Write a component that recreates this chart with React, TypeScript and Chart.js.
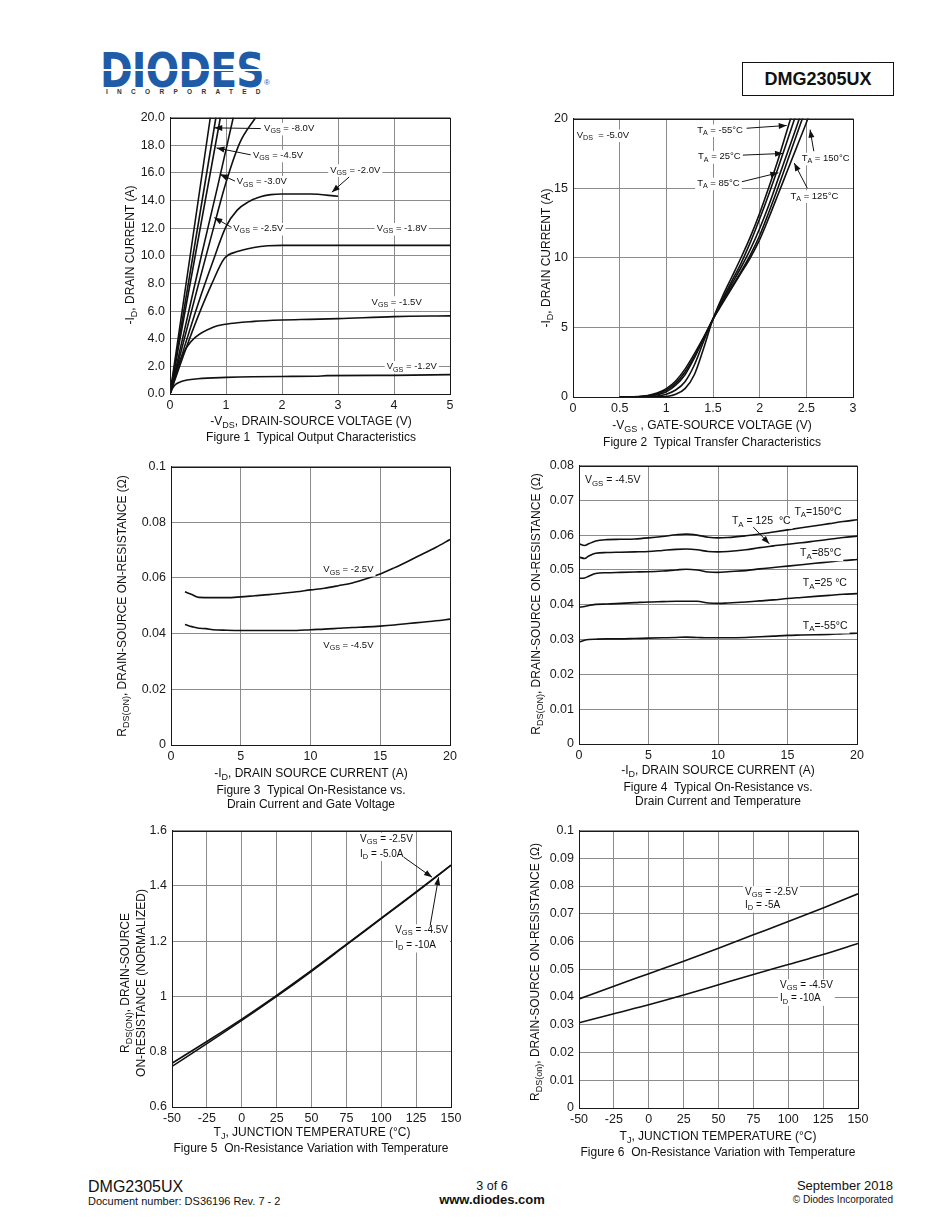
import React, { useEffect, useRef } from "react";
import { Chart, registerables } from "chart.js";
Chart.register(...registerables);

const FONT = '"Liberation Sans", Arial, Helvetica, sans-serif';

// ---------------- Figure 1: Typical Output Characteristics ----------------
const fig1XTicks = [0, 1, 2, 3, 4, 5];
const fig1YTicks = [0, 2, 4, 6, 8, 10, 12, 14, 16, 18, 20];
const fig1VgsTopX = [0, 0.36, 0.72];
const fig1VgsTopY = [0, 10, 20];
const fig1Vgs80X = [0, 0.41, 0.82];
const fig1Vgs80Y = [0, 10, 20];
const fig1Vgs45X = [0, 0.45, 0.9];
const fig1Vgs45Y = [0, 10, 20];
const fig1Vgs30X = [0, 0.28, 0.56, 0.85, 1.13];
const fig1Vgs30Y = [0, 5, 10, 15, 20];
const fig1Vgs25X = [0, 0.25, 0.5, 0.75, 1.0, 1.25, 1.53];
const fig1Vgs25Y = [0, 3.9, 7.8, 11.6, 15.3, 18.2, 20];
const fig1Vgs20X = [0, 0.25, 0.5, 0.75, 1.0, 1.2, 1.4, 1.6, 1.8, 2.0, 2.5, 3.0];
const fig1Vgs20Y = [0, 3.3, 6.5, 9.4, 12.1, 13.3, 13.9, 14.25, 14.42, 14.47, 14.47, 14.3];
const fig1Vgs18X = [0, 0.25, 0.5, 0.75, 0.97, 1.2, 1.5, 1.75, 2, 3, 4, 5];
const fig1Vgs18Y = [0, 2.9, 5.6, 8.0, 9.8, 10.3, 10.6, 10.72, 10.75, 10.75, 10.75, 10.75];
const fig1Vgs15X = [0, 0.1, 0.2, 0.3, 0.45, 0.75, 1, 1.5, 2, 2.5, 3, 4, 5];
const fig1Vgs15Y = [0, 1.5, 2.6, 3.4, 4.1, 4.8, 5.05, 5.25, 5.35, 5.4, 5.45, 5.6, 5.65];
const fig1Vgs12X = [0, 0.05, 0.1, 0.2, 0.5, 1, 2, 2.6, 2.8, 4, 5];
const fig1Vgs12Y = [0, 0.45, 0.7, 0.9, 1.1, 1.2, 1.27, 1.28, 1.33, 1.35, 1.4];
const fig1Notes = [
  { x: 1.68, y: 19.2, text: ["V_{GS} = -8.0V"], from: [1.62, 19.2], to: [0.79, 19.25] },
  { x: 1.48, y: 17.26, text: ["V_{GS} = -4.5V"], from: [1.44, 17.3], to: [0.83, 17.8] },
  { x: 1.19, y: 15.35, text: ["V_{GS} = -3.0V"], from: [1.16, 15.4], to: [0.89, 15.9] },
  { x: 1.13, y: 11.96, text: ["V_{GS} = -2.5V"], from: [1.1, 12.05], to: [0.79, 12.76] },
  { x: 2.86, y: 16.2, text: ["V_{GS} = -2.0V"], from: [3.2, 15.7], to: [2.89, 14.6] },
  { x: 3.69, y: 11.96, text: ["V_{GS} = -1.8V"] },
  { x: 3.6, y: 6.66, text: ["V_{GS} = -1.5V"] },
  { x: 3.87, y: 1.97, text: ["V_{GS} = -1.2V"] },
];

// ---------------- Figure 2: Typical Transfer Characteristics ----------------
const fig2XTicks = [0, 0.5, 1, 1.5, 2, 2.5, 3];
const fig2YTicks = [0, 5, 10, 15, 20];
const fig2Tm55X = [0.5, 0.9, 1.0, 1.1, 1.2, 1.3, 1.4, 1.5, 1.6, 1.7, 1.8, 1.9, 2.0, 2.1, 2.2, 2.3, 2.35];
const fig2Tm55Y = [0, 0.01, 0.04, 0.2, 0.6, 1.6, 3.5, 5.6, 7.2, 8.6, 10.0, 11.5, 13.2, 15.1, 17.1, 19.3, 20.4];
const fig2T25X = [0.5, 0.8, 0.9, 1.0, 1.1, 1.2, 1.3, 1.4, 1.5, 1.6, 1.7, 1.8, 1.9, 2.0, 2.1, 2.2, 2.3, 2.4];
const fig2T25Y = [0, 0.01, 0.06, 0.2, 0.5, 1.1, 2.3, 4.0, 5.6, 7.0, 8.3, 9.6, 11.1, 12.8, 14.6, 16.5, 18.5, 20.5];
const fig2T85X = [0.5, 0.7, 0.8, 0.9, 1.0, 1.1, 1.2, 1.3, 1.4, 1.5, 1.6, 1.7, 1.8, 1.9, 2.0, 2.1, 2.2, 2.3, 2.4, 2.45];
const fig2T85Y = [0, 0.01, 0.05, 0.16, 0.38, 0.85, 1.6, 2.8, 4.2, 5.6, 6.9, 8.1, 9.3, 10.6, 12.1, 13.8, 15.7, 17.6, 19.5, 20.5];
const fig2T125X = [0.5, 0.7, 0.8, 0.9, 1.0, 1.1, 1.2, 1.3, 1.4, 1.5, 1.6, 1.7, 1.8, 1.9, 2.0, 2.1, 2.2, 2.3, 2.4, 2.5];
const fig2T125Y = [0, 0.02, 0.08, 0.22, 0.5, 1.0, 1.8, 2.9, 4.2, 5.6, 6.8, 7.9, 9.0, 10.2, 11.6, 13.3, 15.1, 17.0, 18.9, 20.8];
const fig2T150X = [0.5, 0.7, 0.8, 0.9, 1.0, 1.1, 1.2, 1.3, 1.4, 1.5, 1.6, 1.7, 1.8, 1.9, 2.0, 2.1, 2.2, 2.3, 2.4, 2.5, 2.55];
const fig2T150Y = [0, 0.03, 0.1, 0.28, 0.6, 1.15, 2.0, 3.1, 4.3, 5.6, 6.7, 7.8, 8.9, 10.0, 11.3, 12.9, 14.6, 16.3, 18.0, 19.7, 20.6];
const fig2Notes = [
  { x: 0.04, y: 18.8, text: ["V_{DS}  = -5.0V"] },
  { x: 1.33, y: 19.16, text: ["T_{A} = -55°C"], from: [1.86, 19.3], to: [2.29, 19.5] },
  { x: 1.34, y: 17.25, text: ["T_{A} = 25°C"], from: [1.82, 17.37], to: [2.25, 17.49] },
  { x: 1.33, y: 15.34, text: ["T_{A} = 85°C"], from: [1.81, 15.46], to: [2.2, 16.1] },
  { x: 2.45, y: 17.13, text: ["T_{A} = 150°C"], from: [2.58, 17.65], to: [2.54, 19.2] },
  { x: 2.33, y: 14.43, text: ["T_{A} = 125°C"], from: [2.51, 15.0], to: [2.37, 16.8] },
];

// ---------------- Figure 3: On-Resistance vs Drain Current and Gate Voltage ----------------
const fig3XTicks = [0, 5, 10, 15, 20];
const fig3YTicks = [0, 0.02, 0.04, 0.06, 0.08, 0.1];
const fig3Vgs25X = [1, 1.5, 2, 3, 4, 5, 6, 7, 8, 9, 10, 11, 12, 13, 14, 15, 16, 17, 18, 19, 20];
const fig3Vgs25Y = [0.055, 0.054, 0.053, 0.0529, 0.0529, 0.0532, 0.0536, 0.054, 0.0545, 0.055, 0.0557, 0.0563, 0.0572, 0.0582, 0.0597, 0.0614, 0.0636, 0.066, 0.0685, 0.071, 0.0738];
const fig3Vgs45X = [1, 1.5, 2, 2.5, 3, 4, 5, 6, 7, 8, 9, 10, 11, 12, 13, 14, 15, 16, 17, 18, 19, 20];
const fig3Vgs45Y = [0.0433, 0.0425, 0.0419, 0.0418, 0.0414, 0.0412, 0.0411, 0.0411, 0.0411, 0.0411, 0.0411, 0.0414, 0.0416, 0.0419, 0.0422, 0.0424, 0.0427, 0.0431, 0.0436, 0.0441, 0.0446, 0.0452];
const fig3Notes = [
  { x: 10.92, y: 0.0629, text: ["V_{GS} = -2.5V"] },
  { x: 10.92, y: 0.0359, text: ["V_{GS} = -4.5V"] },
];

// ---------------- Figure 4: On-Resistance vs Drain Current and Temperature ----------------
const fig4XTicks = [0, 5, 10, 15, 20];
const fig4YTicks = [0, 0.01, 0.02, 0.03, 0.04, 0.05, 0.06, 0.07, 0.08];
const fig4X = [0, 0.4, 0.7, 1.2, 2, 3, 4, 5, 6, 7, 7.7, 8.5, 9.3, 10, 10.7, 12, 13, 14, 15, 16, 17, 18, 19, 20];
const fig4T150 = [0.0575, 0.057, 0.0575, 0.0583, 0.0587, 0.0588, 0.0589, 0.0592, 0.0596, 0.0601, 0.0603, 0.06, 0.0594, 0.0592, 0.0593, 0.0598, 0.0603, 0.0609, 0.0615, 0.0621, 0.0627, 0.0633, 0.0639, 0.0644];
const fig4T125 = [0.0537, 0.0533, 0.054, 0.0548, 0.055, 0.0551, 0.0552, 0.0553, 0.0556, 0.0559, 0.056, 0.0558, 0.0553, 0.0552, 0.0553, 0.0558, 0.0564, 0.0569, 0.0574, 0.0578, 0.0583, 0.0588, 0.0593, 0.0597];
const fig4T85 = [0.0476, 0.0477, 0.0482, 0.049, 0.0492, 0.0493, 0.0494, 0.0495, 0.0497, 0.05, 0.0502, 0.05, 0.0494, 0.0493, 0.0495, 0.0498, 0.0503, 0.0507, 0.0511, 0.0515, 0.0519, 0.0523, 0.0527, 0.053];
const fig4T25 = [0.0393, 0.0395, 0.0398, 0.0401, 0.0402, 0.0404, 0.0406, 0.0408, 0.0409, 0.041, 0.041, 0.041, 0.0405, 0.0404, 0.0405, 0.0408, 0.0411, 0.0414, 0.0418, 0.0421, 0.0424, 0.0427, 0.043, 0.0432];
const fig4Tm55 = [0.0293, 0.0298, 0.03, 0.0301, 0.0302, 0.0302, 0.0303, 0.0304, 0.0305, 0.0306, 0.0307, 0.0306, 0.0305, 0.0305, 0.0305, 0.0306, 0.0308, 0.031, 0.0312, 0.0313, 0.0314, 0.0315, 0.0317, 0.0318];
const fig4Notes = [
  { x: 0.43, y: 0.0757, text: ["V_{GS} = -4.5V"] },
  { x: 15.5, y: 0.0666, text: ["T_{A}=150°C"] },
  { x: 11.0, y: 0.064, text: ["T_{A} = 125  °C"], from: [12.54, 0.0623], to: [13.69, 0.0575] },
  { x: 15.9, y: 0.0547, text: ["T_{A}=85°C"] },
  { x: 16.1, y: 0.0461, text: ["T_{A}=25 °C"] },
  { x: 16.1, y: 0.0339, text: ["T_{A}=-55°C"] },
];

// ---------------- Figure 5: Normalized On-Resistance vs Temperature ----------------
const fig5XTicks = [-50, -25, 0, 25, 50, 75, 100, 125, 150];
const fig5YTicks = [0.6, 0.8, 1, 1.2, 1.4, 1.6];
const fig5TempX = [-50, -25, 0, 25, 50, 75, 100, 125, 150];
const fig5Vgs25 = [0.758, 0.837, 0.918, 1.004, 1.094, 1.188, 1.283, 1.378, 1.475];
const fig5Vgs45 = [0.747, 0.829, 0.913, 1.0, 1.091, 1.186, 1.281, 1.376, 1.474];
const fig5Notes = [
  { x: 84.8, y: 1.57, text: ["V_{GS} = -2.5V", "I_{D} = -5.0A"], from: [116, 1.504], to: [136.4, 1.431] },
  { x: 110, y: 1.239, text: ["V_{GS} = -4.5V", "I_{D} = -10A"], from: [135.1, 1.257], to: [141.1, 1.431] },
];

// ---------------- Figure 6: On-Resistance vs Temperature ----------------
const fig6XTicks = [-50, -25, 0, 25, 50, 75, 100, 125, 150];
const fig6YTicks = [0, 0.01, 0.02, 0.03, 0.04, 0.05, 0.06, 0.07, 0.08, 0.09, 0.1];
const fig6TempX = [-50, -25, 0, 25, 50, 75, 100, 125, 150];
const fig6Vgs25 = [0.0393, 0.0439, 0.0484, 0.0529, 0.0576, 0.0624, 0.0672, 0.0721, 0.0772];
const fig6Vgs45 = [0.0307, 0.034, 0.0372, 0.0407, 0.0444, 0.0481, 0.0517, 0.0553, 0.0593];
const fig6Notes = [
  { x: 69, y: 0.0778, text: ["V_{GS} = -2.5V", "I_{D} = -5A"] },
  { x: 94.1, y: 0.0442, text: ["V_{GS} = -4.5V", "I_{D} = -10A"] },
];

// ---------------- helpers ----------------
function richParts(s: string) {
  const parts: { t: string; sub: boolean }[] = [];
  const re = /_\{([^}]*)\}/g;
  let last = 0;
  let m: RegExpExecArray | null;
  while ((m = re.exec(s))) {
    if (m.index > last) parts.push({ t: s.slice(last, m.index), sub: false });
    parts.push({ t: m[1], sub: true });
    last = re.lastIndex;
  }
  if (last < s.length) parts.push({ t: s.slice(last), sub: false });
  return parts;
}

function richWidth(ctx: CanvasRenderingContext2D, s: string, size: number) {
  let w = 0;
  for (const p of richParts(s)) {
    ctx.font = `${p.sub ? size * 0.75 : size}px ${FONT}`;
    w += ctx.measureText(p.t).width;
  }
  return w;
}

function drawRich(ctx: CanvasRenderingContext2D, s: string, x: number, y: number, size: number) {
  let cx = x;
  for (const p of richParts(s)) {
    ctx.font = `${p.sub ? size * 0.75 : size}px ${FONT}`;
    ctx.fillText(p.t, cx, p.sub ? y + size * 0.3 : y);
    cx += ctx.measureText(p.t).width;
  }
}

function drawArrow(ctx: CanvasRenderingContext2D, x1: number, y1: number, x2: number, y2: number) {
  ctx.beginPath();
  ctx.moveTo(x1, y1);
  ctx.lineTo(x2, y2);
  ctx.stroke();
  const a = Math.atan2(y2 - y1, x2 - x1);
  const len = 8, w = 3;
  ctx.beginPath();
  ctx.moveTo(x2, y2);
  ctx.lineTo(x2 - len * Math.cos(a) + w * Math.sin(a), y2 - len * Math.sin(a) - w * Math.cos(a));
  ctx.lineTo(x2 - len * Math.cos(a) - w * Math.sin(a), y2 - len * Math.sin(a) + w * Math.cos(a));
  ctx.closePath();
  ctx.fill();
}

type Note = { x: number; y: number; text: string[]; from?: number[]; to?: number[] };
type Series = { x: number[]; y: number[] };
type Spec = {
  left: number; top: number; width: number; height: number;
  xMin: number; xMax: number; yMin: number; yMax: number;
  xTicks: number[]; yTicks: number[];
  fmtY?: (v: number) => string;
  series: Series[];
  notes: Note[];
  noteSize: number;
  noteLine: number;
  grid?: string;
};

const PL = 52, PT = 12, PR = 24, PB = 22;

function Plot({ spec }: { spec: Spec }) {
  const ref = useRef<HTMLCanvasElement>(null);
  const cw = spec.width + PL + PR;
  const ch = spec.height + PT + PB;
  useEffect(() => {
    const notesPlugin = {
      id: "notes",
      afterDatasetsDraw(chart: any) {
        const ctx: CanvasRenderingContext2D = chart.ctx;
        const a = chart.chartArea;
        const xs = chart.scales.x, ys = chart.scales.y;
        ctx.save();
        ctx.strokeStyle = "#1a1a1a";
        ctx.lineWidth = 1;
        const l = Math.round(a.left) + 0.5, t = Math.round(a.top) + 0.5;
        const r = Math.round(a.right) + 0.5, b = Math.round(a.bottom) + 0.5;
        ctx.strokeRect(l, t, r - l, b - t);
        ctx.textBaseline = "middle";
        ctx.textAlign = "left";
        for (const n of spec.notes) {
          const px = xs.getPixelForValue(n.x);
          const py = ys.getPixelForValue(n.y);
          let w = 0;
          for (const s of n.text) w = Math.max(w, richWidth(ctx, s, spec.noteSize));
          ctx.fillStyle = "#ffffff";
          const top = py - spec.noteSize * 0.6;
          const bot = py + (n.text.length - 1) * spec.noteLine + spec.noteSize * 0.72;
          ctx.fillRect(px - 2, top, w + 4, bot - top);
          ctx.fillStyle = "#111";
          n.text.forEach((s, i) => drawRich(ctx, s, px, py + i * spec.noteLine, spec.noteSize));
          if (n.from && n.to) {
            ctx.strokeStyle = "#111";
            ctx.fillStyle = "#111";
            ctx.lineWidth = 1;
            drawArrow(ctx, xs.getPixelForValue(n.from[0]), ys.getPixelForValue(n.from[1]), xs.getPixelForValue(n.to[0]), ys.getPixelForValue(n.to[1]));
          }
        }
        ctx.restore();
      },
    };
    const gridColor = spec.grid || "#8c8c8c";
    const tickFont = { family: FONT, size: 12.5 };
    const chart = new Chart(ref.current as HTMLCanvasElement, {
      type: "scatter",
      data: {
        datasets: spec.series.map((s) => ({
          data: s.x.map((x, i) => ({ x, y: s.y[i] })),
          showLine: true,
          borderColor: "#111",
          borderWidth: 1.6,
          pointRadius: 0,
          cubicInterpolationMode: "monotone",
          fill: false,
        })),
      } as any,
      options: {
        responsive: false,
        animation: false,
        events: [],
        layout: { padding: { left: 0, top: PT, right: PR, bottom: 0 }, autoPadding: false } as any,
        plugins: { legend: { display: false }, tooltip: { enabled: false } },
        scales: {
          x: {
            type: "linear",
            min: spec.xMin,
            max: spec.xMax,
            afterBuildTicks: (s: any) => { s.ticks = spec.xTicks.map((v) => ({ value: v })); },
            afterFit: (s: any) => { s.height = PB; },
            grid: { color: gridColor, lineWidth: 1, drawTicks: false },
            border: { display: true, color: "#1a1a1a", width: 1 },
            ticks: { padding: 4, font: tickFont, color: "#1a1a1a", maxRotation: 0, autoSkip: false, callback: (v: any) => String(v) },
          },
          y: {
            type: "linear",
            min: spec.yMin,
            max: spec.yMax,
            afterBuildTicks: (s: any) => { s.ticks = spec.yTicks.map((v) => ({ value: v })); },
            afterFit: (s: any) => { s.width = PL; },
            grid: { color: gridColor, lineWidth: 1, drawTicks: false },
            border: { display: true, color: "#1a1a1a", width: 1 },
            ticks: { padding: 5, font: tickFont, color: "#1a1a1a", autoSkip: false, callback: (v: any) => (spec.fmtY ? spec.fmtY(v) : String(v)) },
          },
        },
      } as any,
      plugins: [notesPlugin as any],
    });
    return () => chart.destroy();
  }, []);
  return (
    <canvas
      ref={ref}
      width={cw}
      height={ch}
      style={{ position: "absolute", left: spec.left - PL, top: spec.top - PT, width: cw, height: ch, display: "block" }}
    />
  );
}

const Sub = ({ children }: { children: any }) => (
  <sub style={{ fontSize: "75%", verticalAlign: "-0.3em", lineHeight: 0 }}>{children}</sub>
);

function Txt({ x, y, size = 12, align = "center", bold = false, rotate = false, children, color = "#111" }: any) {
  const tx = align === "center" ? "-50%" : align === "right" ? "-100%" : "0";
  return (
    <div
      style={{
        position: "absolute",
        left: x,
        top: y,
        transform: rotate ? "translate(-50%,-50%) rotate(-90deg)" : `translate(${tx},-50%)`,
        whiteSpace: "nowrap",
        fontFamily: FONT,
        fontSize: size,
        fontWeight: bold ? "bold" : "normal",
        lineHeight: `${Math.round(size * 1.2)}px`,
        color,
      }}
    >
      {children}
    </div>
  );
}

const specs: Spec[] = [
  {
    left: 170, top: 117, width: 280, height: 277, xMin: 0, xMax: 5, yMin: 0, yMax: 20,
    xTicks: fig1XTicks, yTicks: fig1YTicks, fmtY: (v) => v.toFixed(1),
    series: [
      { x: fig1VgsTopX, y: fig1VgsTopY }, { x: fig1Vgs80X, y: fig1Vgs80Y }, { x: fig1Vgs45X, y: fig1Vgs45Y },
      { x: fig1Vgs30X, y: fig1Vgs30Y }, { x: fig1Vgs25X, y: fig1Vgs25Y }, { x: fig1Vgs20X, y: fig1Vgs20Y },
      { x: fig1Vgs18X, y: fig1Vgs18Y }, { x: fig1Vgs15X, y: fig1Vgs15Y }, { x: fig1Vgs12X, y: fig1Vgs12Y },
    ],
    notes: fig1Notes, noteSize: 9.5, noteLine: 13,
  },
  {
    left: 573, top: 118, width: 280, height: 279, xMin: 0, xMax: 3, yMin: 0, yMax: 20,
    xTicks: fig2XTicks, yTicks: fig2YTicks,
    series: [
      { x: fig2Tm55X, y: fig2Tm55Y }, { x: fig2T25X, y: fig2T25Y }, { x: fig2T85X, y: fig2T85Y },
      { x: fig2T125X, y: fig2T125Y }, { x: fig2T150X, y: fig2T150Y },
    ],
    notes: fig2Notes, noteSize: 9.5, noteLine: 13,
  },
  {
    left: 171, top: 466, width: 279, height: 279, xMin: 0, xMax: 20, yMin: 0, yMax: 0.1,
    xTicks: fig3XTicks, yTicks: fig3YTicks,
    series: [{ x: fig3Vgs25X, y: fig3Vgs25Y }, { x: fig3Vgs45X, y: fig3Vgs45Y }],
    notes: fig3Notes, noteSize: 9.5, noteLine: 13,
  },
  {
    left: 579, top: 465, width: 278, height: 279, xMin: 0, xMax: 20, yMin: 0, yMax: 0.08,
    xTicks: fig4XTicks, yTicks: fig4YTicks,
    series: [
      { x: fig4X, y: fig4T150 }, { x: fig4X, y: fig4T125 }, { x: fig4X, y: fig4T85 },
      { x: fig4X, y: fig4T25 }, { x: fig4X, y: fig4Tm55 },
    ],
    notes: fig4Notes, noteSize: 10.5, noteLine: 13,
  },
  {
    left: 172, top: 830, width: 279, height: 277, xMin: -50, xMax: 150, yMin: 0.6, yMax: 1.6,
    xTicks: fig5XTicks, yTicks: fig5YTicks,
    series: [{ x: fig5TempX, y: fig5Vgs25 }, { x: fig5TempX, y: fig5Vgs45 }],
    notes: fig5Notes, noteSize: 10, noteLine: 15,
  },
  {
    left: 579, top: 830, width: 279, height: 278, xMin: -50, xMax: 150, yMin: 0, yMax: 0.1,
    xTicks: fig6XTicks, yTicks: fig6YTicks,
    series: [{ x: fig6TempX, y: fig6Vgs25 }, { x: fig6TempX, y: fig6Vgs45 }],
    notes: fig6Notes, noteSize: 10, noteLine: 13.3,
  },
];

export default function App() {
  return (
    <div style={{ position: "absolute", left: 0, top: 0, width: 950, height: 1230, background: "#fff", overflow: "hidden" }}>
      {/* Header logo */}
      <div
        style={{
          position: "absolute", left: 100, top: 46, fontFamily: '"DejaVu Sans", sans-serif', fontWeight: "bold",
          fontSize: 48, lineHeight: "48px", color: "#1f5ca8", letterSpacing: -1, transform: "scaleX(0.82)",
          transformOrigin: "left top", whiteSpace: "nowrap",
        }}
      >
        DIODES
      </div>
      <div style={{ position: "absolute", left: 100, top: 69, width: 165, height: 2, background: "#fff" }} />
      <div style={{ position: "absolute", left: 264, top: 78, fontFamily: FONT, fontSize: 8, color: "#1f5ca8" }}>®</div>
      <div
        style={{
          position: "absolute", left: 106, top: 88, fontFamily: FONT, fontWeight: "bold", fontSize: 6.5,
          letterSpacing: 9.3, color: "#333", whiteSpace: "nowrap",
        }}
      >
        INCORPORATED
      </div>
      <div
        style={{
          position: "absolute", left: 742, top: 62, width: 152, height: 34, boxSizing: "border-box",
          border: "1px solid #111", fontFamily: FONT, fontWeight: "bold", fontSize: 18, lineHeight: "32px",
          textAlign: "center", color: "#111",
        }}
      >
        DMG2305UX
      </div>

      {specs.map((s, i) => (
        <Plot key={i} spec={s} />
      ))}

      {/* Figure 1 texts */}
      <Txt x={130} y={255} rotate>-I<Sub>D</Sub>, DRAIN CURRENT (A)</Txt>
      <Txt x={311} y={421}>-V<Sub>DS</Sub>, DRAIN-SOURCE VOLTAGE (V)</Txt>
      <Txt x={311} y={437}>Figure 1&nbsp; Typical Output Characteristics</Txt>

      {/* Figure 2 texts */}
      <Txt x={546} y={258} rotate>-I<Sub>D</Sub>, DRAIN CURRENT (A)</Txt>
      <Txt x={712} y={425}>-V<Sub>GS</Sub> , GATE-SOURCE VOLTAGE (V)</Txt>
      <Txt x={712} y={442}>Figure 2&nbsp; Typical Transfer Characteristics</Txt>

      {/* Figure 3 texts */}
      <Txt x={122} y={606} rotate>R<Sub>DS(ON)</Sub>, DRAIN-SOURCE ON-RESISTANCE (Ω)</Txt>
      <Txt x={311} y={773}>-I<Sub>D</Sub>, DRAIN SOURCE CURRENT (A)</Txt>
      <Txt x={311} y={790}>Figure 3&nbsp; Typical On-Resistance vs.</Txt>
      <Txt x={311} y={804}>Drain Current and Gate Voltage</Txt>

      {/* Figure 4 texts */}
      <Txt x={536} y={604} rotate>R<Sub>DS(ON)</Sub>, DRAIN-SOURCE ON-RESISTANCE (Ω)</Txt>
      <Txt x={718} y={770}>-I<Sub>D</Sub>, DRAIN SOURCE CURRENT (A)</Txt>
      <Txt x={718} y={787}>Figure 4&nbsp; Typical On-Resistance vs.</Txt>
      <Txt x={718} y={801}>Drain Current and Temperature</Txt>

      {/* Figure 5 texts */}
      <Txt x={125} y={983} rotate>R<Sub>DS(ON)</Sub>, DRAIN-SOURCE</Txt>
      <Txt x={141} y={983} rotate>ON-RESISTANCE (NORMALIZED)</Txt>
      <Txt x={312} y={1132}>T<Sub>J</Sub>, JUNCTION TEMPERATURE (°C)</Txt>
      <Txt x={311} y={1148}>Figure 5&nbsp; On-Resistance Variation with Temperature</Txt>

      {/* Figure 6 texts */}
      <Txt x={535} y={972} rotate>R<Sub>DS(on)</Sub>, DRAIN-SOURCE ON-RESISTANCE (Ω)</Txt>
      <Txt x={718} y={1136}>T<Sub>J</Sub>, JUNCTION TEMPERATURE (°C)</Txt>
      <Txt x={718} y={1152}>Figure 6&nbsp; On-Resistance Variation with Temperature</Txt>

      {/* Footer */}
      <Txt x={88} y={1186} size={16} align="left">DMG2305UX</Txt>
      <Txt x={88} y={1201} size={11} align="left">Document number: DS36196 Rev. 7 - 2</Txt>
      <Txt x={492} y={1186} size={12.5}>3 of 6</Txt>
      <Txt x={492} y={1200} size={13} bold>www.diodes.com</Txt>
      <Txt x={893} y={1186} size={13} align="right">September 2018</Txt>
      <Txt x={893} y={1200} size={10} align="right">© Diodes Incorporated</Txt>
    </div>
  );
}
